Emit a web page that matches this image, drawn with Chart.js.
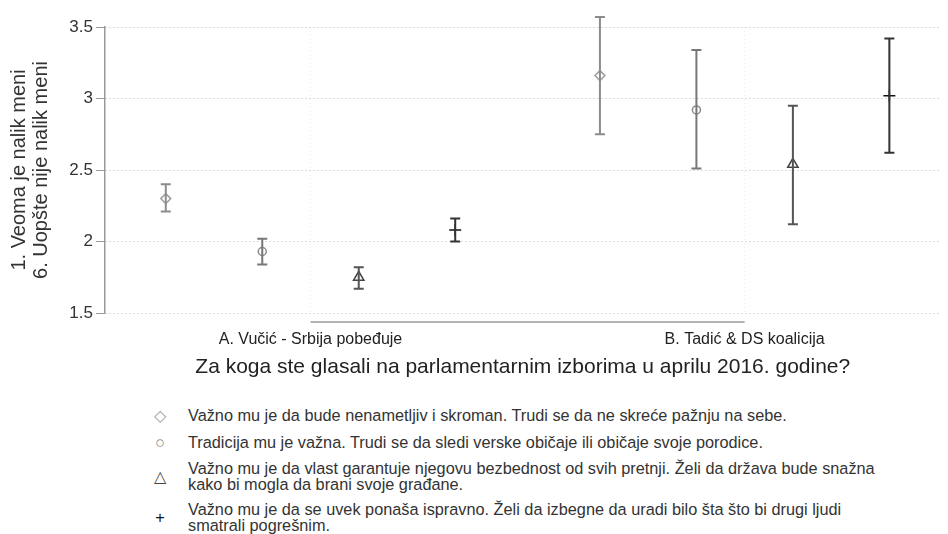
<!DOCTYPE html>
<html>
<head>
<meta charset="utf-8">
<script src="https://cdn.jsdelivr.net/npm/chart.js@4"></script>
<style>
  body { margin: 0; background: #fff; font-family: "Liberation Sans", Arial, sans-serif; }
  #wrap { position: relative; width: 948px; height: 534px; }
  #chartBox { position: absolute; left: 0; top: 0; width: 948px; height: 385px; }
  #legenda { position: absolute; left: 0; top: 400px; width: 948px; font-size: 16.3px; color: #333; line-height: 16px; }
  .red { position: absolute; left: 188px; white-space: nowrap; }
  .ozn { position: absolute; left: 152px; width: 16px; text-align: center; }
</style>
</head>
<body>
<div id="wrap">
  <div id="chartBox"><canvas id="grafik"></canvas></div>
  <div id="legenda"></div>
</div>
<script>
const kategorije = ['A. Vučić - Srbija pobeđuje', 'B. Tadić & DS koalicija'];
const vrednosti = ['Važno mu je da bude nenametljiv i skroman. Trudi se da ne skreće pažnju na sebe.',
  'Tradicija mu je važna. Trudi se da sledi verske običaje ili običaje svoje porodice.',
  'Važno mu je da vlast garantuje njegovu bezbednost od svih pretnji. Želi da država bude snažna<br>kako bi mogla da brani svoje građane.',
  'Važno mu je da se uvek ponaša ispravno. Želi da izbegne da uradi bilo šta što bi drugi ljudi<br>smatrali pogrešnim.'];

// proseci po grupi [A, B]
const skromnost = [2.30, 3.16];
const tradicija = [1.93, 2.92];
const bezbednost = [1.75, 2.54];
const konformnost = [2.08, 3.02];
// intervali poverenja
const skromnostDole = [2.21, 2.75], skromnostGore = [2.40, 3.57];
const tradicijaDole = [1.84, 2.51], tradicijaGore = [2.02, 3.34];
const bezbednostDole = [1.67, 2.12], bezbednostGore = [1.82, 2.95];
const konformnostDole = [2.00, 2.62], konformnostGore = [2.16, 3.42];
const yTikovi = [1.5, 2, 2.5, 3, 3.5];

const serije = [
  { proseci: skromnost, dole: skromnostDole, gore: skromnostGore, oblik: 'rectRot', r: 5, boja: '#a0a0a0', linija: '#8c8c8c', znak: '◇' },
  { proseci: tradicija, dole: tradicijaDole, gore: tradicijaGore, oblik: 'circle', r: 4, boja: '#8a8a8a', linija: '#777', znak: '○' },
  { proseci: bezbednost, dole: bezbednostDole, gore: bezbednostGore, oblik: 'triangle', r: 6, boja: '#444', linija: '#555', znak: '△' },
  { proseci: konformnost, dole: konformnostDole, gore: konformnostGore, oblik: 'cross', r: 6, boja: '#111', linija: '#333', znak: '+' }
];

// pozicija na x osi: grupa * 4.5 + serija + 1
const pozX = (g, s) => g * 4.5 + s + 1;
const centarGrupe = g => g * 4.5 + 2.5;

const errorBarovi = {
  id: 'errorBarovi',
  afterDatasetsDraw(chart) {
    const { ctx, scales: { x, y } } = chart;
    ctx.save();
    serije.forEach((s, si) => {
      s.proseci.forEach((v, g) => {
        const px = x.getPixelForValue(pozX(g, si));
        const y1 = y.getPixelForValue(s.dole[g]);
        const y2 = y.getPixelForValue(s.gore[g]);
        ctx.strokeStyle = s.linija;
        ctx.lineWidth = 2;
        ctx.beginPath();
        ctx.moveTo(px, y1); ctx.lineTo(px, y2);
        ctx.moveTo(px - 5, y1); ctx.lineTo(px + 5, y1);
        ctx.moveTo(px - 5, y2); ctx.lineTo(px + 5, y2);
        ctx.stroke();
      });
    });
    // linija x ose od prve do poslednje kategorije
    const a = x.getPixelForValue(centarGrupe(0));
    const b = x.getPixelForValue(centarGrupe(1));
    const yy = chart.chartArea.bottom + 9;
    ctx.strokeStyle = '#9a9a9a';
    ctx.lineWidth = 1.5;
    ctx.beginPath();
    ctx.moveTo(a, yy); ctx.lineTo(b, yy);
    ctx.stroke();
    ctx.restore();
  }
};

new Chart(document.getElementById('grafik'), {
  type: 'scatter',
  data: {
    datasets: serije.map((s, si) => ({
      data: s.proseci.map((v, g) => ({ x: pozX(g, si), y: v })),
      pointStyle: s.oblik,
      pointRadius: s.r,
      pointBorderColor: s.boja,
      pointBackgroundColor: 'rgba(255,255,255,0.9)',
      pointBorderWidth: 1.5,
      clip: false
    }))
  },
  options: {
    responsive: true,
    maintainAspectRatio: false,
    animation: false,
    layout: { padding: { top: 27, right: 3, left: 0, bottom: 0 } },
    plugins: { legend: { display: false }, tooltip: { enabled: false } },
    scales: {
      x: {
        type: 'linear',
        min: 0.37,
        max: 9.03,
        afterBuildTicks: s => { s.ticks = kategorije.map((k, g) => ({ value: centarGrupe(g) })); },
        afterFit: s => { s.height = 72; },
        ticks: {
          callback: (v, i) => kategorije[i],
          color: '#222',
          font: { family: 'Liberation Sans', size: 16 },
          padding: 17,
          maxRotation: 0
        },
        grid: { color: 'rgba(0,0,0,0.07)', drawTicks: false },
        border: { display: false, dash: [1, 3] },
        title: {
          display: true,
          text: 'Za koga ste glasali na parlamentarnim izborima u aprilu 2016. godine?',
          color: '#222',
          font: { family: 'Liberation Sans', size: 21 },
          padding: { top: 0, bottom: 5 }
        }
      },
      y: {
        min: 1.5,
        max: 3.5,
        afterBuildTicks: s => { s.ticks = yTikovi.map(v => ({ value: v })); },
        afterFit: s => { s.width = 105; },
        ticks: {
          color: '#333',
          font: { family: 'Liberation Sans', size: 17 },
          padding: 3,
          callback: v => String(v)
        },
        grid: { color: '#b8b8b8', lineWidth: 1, tickColor: '#999', tickLength: 9, tickBorderDash: [] },
        border: { color: '#999', width: 1.5, dash: [1, 3] },
        title: {
          display: true,
          text: ['1. Veoma je nalik meni', '6. Uopšte nije nalik meni'],
          color: '#333',
          font: { family: 'Liberation Sans', size: 20, lineHeight: 1.1 },
          padding: { top: 8, bottom: 8 }
        }
      }
    }
  },
  plugins: [errorBarovi]
});

// legenda ispod grafika
const redoviY = [7, 34, 60, 101];
const znakY = [7, 34, 68, 109];
const leg = document.getElementById('legenda');
serije.forEach((s, i) => {
  const z = document.createElement('div');
  z.className = 'ozn';
  z.style.top = znakY[i] + 'px';
  z.style.color = s.boja;
  z.textContent = s.znak;
  leg.appendChild(z);
  const r = document.createElement('div');
  r.className = 'red';
  r.style.top = redoviY[i] + 'px';
  r.innerHTML = vrednosti[i];
  leg.appendChild(r);
});
</script>
</body>
</html>
